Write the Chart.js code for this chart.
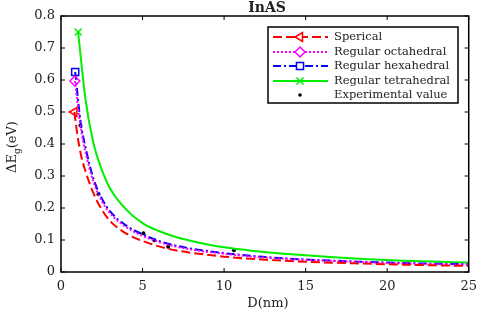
<!DOCTYPE html>
<html>
<head>
<meta charset="utf-8">
<script src="https://cdn.jsdelivr.net/npm/chart.js@4/dist/chart.umd.min.js"></script>
<style>
  body { margin: 0; background: #fff; }
  canvas { display: block; }
</style>
</head>
<body>
<canvas id="chart" width="484" height="314"></canvas>
<script>
// diameters (nm) and band gap shifts (eV)
const spericalD = [0.82, 1.0, 1.25, 1.5, 2, 2.5, 3, 4, 5, 6, 7, 8, 10, 12, 15, 18, 21, 25];
const spericalE = [0.50, 0.43, 0.36, 0.315, 0.245, 0.195, 0.16, 0.12, 0.097, 0.08, 0.068, 0.06, 0.048, 0.04, 0.032, 0.027, 0.023, 0.019];
const octaD = [0.85, 1.2, 1.5, 2, 2.5, 3, 4, 5, 6, 7, 8, 10, 12, 15, 18, 21, 25];
const octaE = [0.597, 0.455, 0.375, 0.28, 0.222, 0.184, 0.14, 0.113, 0.094, 0.08, 0.07, 0.057, 0.047, 0.038, 0.032, 0.027, 0.023];
const hexaD = [0.87, 1.2, 1.5, 2, 2.5, 3, 4, 5, 6, 7, 8, 10, 12, 15, 18, 21, 25];
const hexaE = [0.625, 0.47, 0.39, 0.29, 0.23, 0.19, 0.145, 0.118, 0.097, 0.083, 0.073, 0.059, 0.049, 0.039, 0.033, 0.028, 0.024];
const tetraD = [1.05, 1.5, 2, 2.5, 3, 4, 5, 6, 7, 8, 10, 12, 15, 18, 21, 25];
const tetraE = [0.75, 0.54, 0.40, 0.32, 0.262, 0.195, 0.153, 0.128, 0.11, 0.097, 0.077, 0.065, 0.052, 0.042, 0.035, 0.030];
const expD = [1.19, 2.3, 5.05, 5.72, 6.57, 10.6];
const expE = [0.458, 0.243, 0.121, 0.099, 0.079, 0.068];
const xTicks = [0, 5, 10, 15, 20, 25];
const yTicks = [0, 0.1, 0.2, 0.3, 0.4, 0.5, 0.6, 0.7, 0.8];

const serif = "'DejaVu Serif', serif";

function pts(xs, ys) {
  return xs.map((d, i) => ({ x: d, y: ys[i] }));
}

function firstOnly(r) {
  return ctx => ctx.dataIndex === 0 ? r : 0;
}

let series = [
  { label: "Sperical", d: spericalD, e: spericalE, color: "#ff0000", dash: [9, 4], style: "triangle", rot: -90, r: 5 },
  { label: "Regular octahedral", d: octaD, e: octaE, color: "#ff00ff", dash: [2, 2], style: "rectRot", rot: 0, r: 5 },
  { label: "Regular hexahedral", d: hexaD, e: hexaE, color: "#0000ff", dash: [8, 3, 2, 3], style: "rect", rot: 0, r: 5 },
  { label: "Regular tetrahedral", d: tetraD, e: tetraE, color: "#00ee00", dash: [], style: "crossRot", rot: 0, r: 5 }
];

let datasets = series.map(s => ({
  label: s.label,
  data: pts(s.d, s.e),
  borderColor: s.color,
  backgroundColor: "rgba(0,0,0,0)",
  borderWidth: 2,
  borderDash: s.dash,
  showLine: true,
  cubicInterpolationMode: "monotone",
  pointStyle: s.style,
  rotation: s.rot,
  pointRadius: firstOnly(s.r),
  pointBorderColor: s.color,
  pointBorderWidth: 1.5,
  pointBackgroundColor: "rgba(255,255,255,0)"
}));

datasets.push({
  label: "Experimental value",
  data: pts(expD, expE),
  showLine: false,
  pointStyle: "circle",
  pointRadius: 2,
  pointBackgroundColor: "#000",
  pointBorderColor: "#000",
  pointBorderWidth: 0
});

const decorPlugin = {
  id: "decor",
  afterDraw(chart) {
    let ctx = chart.ctx;
    let a = chart.chartArea;
    let xs = chart.scales.x, ys = chart.scales.y;
    ctx.save();

    // box and inward ticks
    ctx.strokeStyle = "#000";
    ctx.lineWidth = 1.5;
    ctx.strokeRect(a.left, a.top, a.right - a.left, a.bottom - a.top);
    ctx.lineWidth = 1;
    ctx.beginPath();
    xTicks.forEach(v => {
      let px = xs.getPixelForValue(v);
      ctx.moveTo(px, a.bottom); ctx.lineTo(px, a.bottom - 4);
      ctx.moveTo(px, a.top); ctx.lineTo(px, a.top + 4);
    });
    yTicks.forEach(v => {
      let py = ys.getPixelForValue(v);
      ctx.moveTo(a.left, py); ctx.lineTo(a.left + 4, py);
      ctx.moveTo(a.right, py); ctx.lineTo(a.right - 4, py);
    });
    ctx.stroke();

    // title
    ctx.fillStyle = "#222";
    ctx.font = "bold 14px " + serif;
    ctx.textAlign = "center";
    ctx.textBaseline = "middle";
    ctx.fillText("InAS", 267, 8);

    // x title
    ctx.font = "13px " + serif;
    ctx.fillText("D(nm)", 268, 304);

    // y title with subscript
    ctx.save();
    ctx.translate(13, 147);
    ctx.rotate(-Math.PI / 2);
    ctx.textAlign = "left";
    ctx.textBaseline = "middle";
    let big = "13px " + serif, small = "9px " + serif;
    ctx.font = big;
    let w1 = ctx.measureText("\u0394E").width;
    let w3 = ctx.measureText("(eV)").width;
    ctx.font = small;
    let w2 = ctx.measureText("g").width;
    let x0 = -(w1 + w2 + w3) / 2;
    ctx.font = big;
    ctx.fillText("\u0394E", x0, 0);
    ctx.font = small;
    ctx.fillText("g", x0 + w1, 5);
    ctx.font = big;
    ctx.fillText("(eV)", x0 + w1 + w2, 0);
    ctx.restore();

    // legend
    let lx = 268, ly = 27, lw = 190, lh = 76;
    ctx.fillStyle = "#fff";
    ctx.fillRect(lx, ly, lw, lh);
    ctx.strokeStyle = "#000";
    ctx.lineWidth = 1.5;
    ctx.strokeRect(lx, ly, lw, lh);
    ctx.font = "11.5px " + serif;
    ctx.textAlign = "left";
    ctx.textBaseline = "middle";
    let rowY = [37, 52, 66, 81, 95];
    series.forEach((s, i) => {
      let y = rowY[i];
      ctx.strokeStyle = s.color;
      ctx.lineWidth = 2;
      ctx.setLineDash(s.dash);
      ctx.beginPath();
      ctx.moveTo(273, y);
      ctx.lineTo(328, y);
      ctx.stroke();
      ctx.setLineDash([]);
      ctx.fillStyle = "#fff";
      ctx.lineWidth = 1.5;
      Chart.helpers.drawPoint(ctx, { pointStyle: s.style, rotation: s.rot, radius: s.r, borderWidth: 1.5 }, 300, y);
      ctx.fillStyle = "#222";
      ctx.fillText(s.label, 334, y);
    });
    ctx.fillStyle = "#000";
    ctx.beginPath();
    ctx.arc(300, rowY[4], 1.8, 0, Math.PI * 2);
    ctx.fill();
    ctx.fillStyle = "#222";
    ctx.fillText("Experimental value", 334, rowY[4]);

    ctx.restore();
  }
};

new Chart(document.getElementById("chart"), {
  type: "scatter",
  data: { datasets: datasets },
  options: {
    responsive: false,
    animation: false,
    devicePixelRatio: 1,
    layout: { padding: { left: 0, top: 16, right: 11, bottom: 0 } },
    plugins: { legend: { display: false }, tooltip: { enabled: false } },
    scales: {
      x: {
        type: "linear",
        min: 0,
        max: 25,
        afterBuildTicks: s => { s.ticks = xTicks.map(v => ({ value: v })); },
        afterFit: s => { s.height = 42; },
        grid: { display: false, drawTicks: false },
        border: { display: false },
        ticks: { padding: 7, color: "#222", font: { family: serif, size: 13 }, maxRotation: 0 }
      },
      y: {
        type: "linear",
        min: 0,
        max: 0.8,
        afterBuildTicks: s => { s.ticks = yTicks.map(v => ({ value: v })); },
        afterFit: s => { s.width = 61; },
        grid: { display: false, drawTicks: false },
        border: { display: false },
        ticks: { padding: 6, color: "#222", font: { family: serif, size: 13 }, callback: v => String(Math.round(v * 10) / 10) }
      }
    }
  },
  plugins: [decorPlugin]
});
</script>
</body>
</html>
